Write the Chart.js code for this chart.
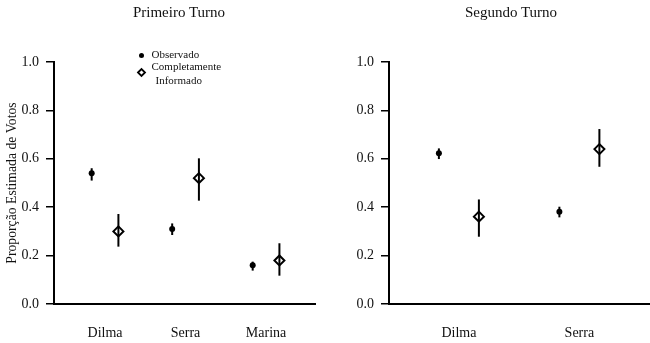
<!DOCTYPE html>
<html>
<head>
<meta charset="utf-8">
<script src="https://cdn.jsdelivr.net/npm/chart.js@4.4.1/dist/chart.umd.min.js"></script>
<style>
  html, body { margin: 0; padding: 0; background: #fff; }
  #wrap { position: relative; width: 650px; height: 343px; overflow: hidden; font-family: 'Liberation Serif', serif; }
  .panel { position: absolute; top: 0; width: 325px; height: 343px; }
  .title { position: absolute; top: 3px; width: 200px; text-align: center; font-size: 15px; line-height: 18px; color: #111; }
</style>
</head>
<body>
<div id="wrap">
  <div class="panel" style="left:0"><canvas id="turno1" width="325" height="343"></canvas></div>
  <div class="panel" style="left:325px"><canvas id="turno2" width="325" height="343"></canvas></div>
  <div class="title" style="left:79px">Primeiro Turno</div>
  <div class="title" style="left:411px">Segundo Turno</div>
</div>
<script>
// valores
const turno1Candidatos = ['Dilma', 'Serra', 'Marina']
const turno1Observado = [0.54, 0.31, 0.16]
const turno1ObservadoMin = [0.51, 0.285, 0.138]
const turno1ObservadoMax = [0.561, 0.333, 0.175]
const turno1Informado = [0.30, 0.52, 0.18]
const turno1InformadoMin = [0.237, 0.427, 0.117]
const turno1InformadoMax = [0.372, 0.602, 0.251]

const turno2Candidatos = ['Dilma', 'Serra']
const turno2Observado = [0.623, 0.381]
const turno2ObservadoMin = [0.599, 0.358]
const turno2ObservadoMax = [0.643, 0.402]
const turno2Informado = [0.361, 0.640]
const turno2InformadoMin = [0.278, 0.567]
const turno2InformadoMax = [0.432, 0.723]

const yTicks = [0, 0.2, 0.4, 0.6, 0.8, 1.0]

const FONT = "'Liberation Serif', serif"
const OFFSET = 0.166 // deslocamento observado / informado

// legenda dentro do painel da esquerda
const legendaPlugin = {
  id: 'legenda',
  afterDraw(chart) {
    const ctx = chart.ctx
    ctx.save()
    ctx.fillStyle = '#000'
    ctx.strokeStyle = '#000'
    Chart.helpers.drawPoint(ctx, { pointStyle: 'circle', radius: 2.5, borderWidth: 0 }, 141.5, 55.5)
    ctx.fillStyle = 'rgba(0,0,0,0)'
    ctx.lineWidth = 1.8
    Chart.helpers.drawPoint(ctx, { pointStyle: 'rectRot', radius: 3.5, borderWidth: 1.8 }, 141.5, 72.5)
    ctx.fillStyle = '#111'
    ctx.font = '11px ' + FONT
    ctx.textBaseline = 'middle'
    ctx.fillText('Observado', 151.5, 55.5)
    ctx.fillText('Completamente', 151.5, 67)
    ctx.fillText('Informado', 155.5, 81)
    ctx.restore()
  },
}

const makeChart = (id, nomes, obs, obsMin, obsMax, inf, infMin, infMax, cfg) => {
  const ctx = document.getElementById(id).getContext('2d')
  return new Chart(ctx, {
    type: 'scatter',
    plugins: cfg.legenda ? [legendaPlugin] : [],
    data: {
      datasets: [
        {
          label: 'Observado',
          data: nomes.map((n, i) => ({ x: i + 1 - OFFSET, y: obs[i] })),
          pointStyle: 'circle',
          pointRadius: 3,
          pointBackgroundColor: '#000',
          pointBorderWidth: 0,
        },
        {
          label: 'Completamente Informado',
          data: nomes.map((n, i) => ({ x: i + 1 + OFFSET, y: inf[i] })),
          pointStyle: 'rectRot',
          pointRadius: 5,
          pointBackgroundColor: 'rgba(0,0,0,0)',
          pointBorderColor: '#000',
          pointBorderWidth: 2,
        },
        {
          type: 'bar',
          data: nomes.map((n, i) => ({ x: i + 1 - OFFSET, y: [obsMin[i], obsMax[i]] })),
          backgroundColor: '#000',
          borderWidth: 0,
          grouped: false,
          maxBarThickness: 2,
          barPercentage: 1,
        },
        {
          type: 'bar',
          data: nomes.map((n, i) => ({ x: i + 1 + OFFSET, y: [infMin[i], infMax[i]] })),
          backgroundColor: '#000',
          borderWidth: 0,
          grouped: false,
          maxBarThickness: 2,
          barPercentage: 1,
        },
      ],
    },
    options: {
      responsive: false,
      animation: false,
      devicePixelRatio: 1,
      layout: { autoPadding: false, padding: { top: 62, right: cfg.padRight, left: 0, bottom: 0 } },
      plugins: { legend: { display: false }, tooltip: { enabled: false } },
      scales: {
        x: {
          type: 'linear',
          min: cfg.xMin,
          max: cfg.xMax,
          offset: false,
          grid: { display: false, drawTicks: false },
          border: { display: true, color: '#000', width: 2 },
          afterBuildTicks: (s) => { s.ticks = nomes.map((n, i) => ({ value: i + 1 })) },
          afterFit: (s) => {
            s.height = 39
            s.paddingLeft = 0
            s.paddingRight = 0
          },
          ticks: {
            autoSkip: false,
            maxRotation: 0,
            padding: 21,
            color: '#111',
            font: { family: FONT, size: 14 },
            callback: (v) => nomes[Math.round(v) - 1],
          },
        },
        y: {
          type: 'linear',
          min: 0,
          max: 1,
          afterBuildTicks: (s) => { s.ticks = yTicks.map((v) => ({ value: v })) },
          afterFit: (s) => { s.width = cfg.yWidth },
          grid: { drawOnChartArea: false, drawTicks: true, tickLength: 8, color: '#000', lineWidth: 1.5 },
          border: { display: true, color: '#000', width: 2 },
          ticks: {
            padding: 7,
            color: '#111',
            font: { family: FONT, size: 14 },
            callback: (v) => Number(v).toFixed(1),
          },
          title: {
            display: cfg.yTitle,
            text: 'Proporção Estimada de Votos',
            color: '#111',
            font: { family: FONT, size: 13.7 },
            padding: { top: 4, bottom: 0 },
          },
        },
      },
    },
  })
}

makeChart('turno1', turno1Candidatos, turno1Observado, turno1ObservadoMin, turno1ObservadoMax,
  turno1Informado, turno1InformadoMin, turno1InformadoMax,
  { xMin: 0.366, xMax: 3.608, yWidth: 54, padRight: 10, yTitle: true, legenda: true })

makeChart('turno2', turno2Candidatos, turno2Observado, turno2ObservadoMin, turno2ObservadoMax,
  turno2Informado, turno2InformadoMin, turno2InformadoMax,
  { xMin: 0.42, xMax: 2.586, yWidth: 64, padRight: 0, yTitle: false, legenda: false })
</script>
</body>
</html>
